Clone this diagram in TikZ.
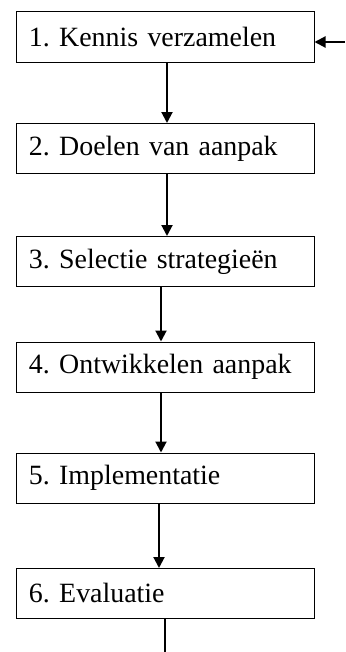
\documentclass[tikz,border=0pt]{standalone}
\usepackage{fontspec}
\setmainfont{Liberation Serif}
\usetikzlibrary{arrows.meta}
\frenchspacing

\tikzset{
	stap/.style={draw, line width=1pt, text width=272bp, inner xsep=13bp, minimum height=50bp, align=left, font=\fontsize{28}{32}\selectfont},
	pijl/.style={line width=2pt, -{Triangle[width=11bp, length=11bp]}},
}

\begin{document}
\begin{tikzpicture}[x=1bp, y=-1bp]
		\useasboundingbox (0, 0) rectangle (345, 652);

		\node[stap] (kennis) at (165, 37) {1. Kennis verzamelen};
		\node[stap] (doelen) at (165, 148.5) {2. Doelen van aanpak};
		\node[stap] (selectie) at (165, 261.5) {3. Selectie strategieën};
		\node[stap] (ontwikkelen) at (165, 367) {4. Ontwikkelen aanpak};
		\node[stap] (implementatie) at (165, 478) {5. Implementatie};
		\node[stap] (evaluatie) at (165, 593.5) {6. Evaluatie};
		\coordinate (terug) at (345, 42);
		\coordinate (onder) at (165, 652);

		\draw[pijl] ([xshift=2bp]kennis.south) -- ([xshift=2bp]doelen.north);
		\draw[pijl] ([xshift=2bp]doelen.south) -- ([xshift=2bp]selectie.north);
		\draw[pijl] ([xshift=-4bp]selectie.south) -- ([xshift=-4bp]ontwikkelen.north);
		\draw[pijl] ([xshift=-4bp]ontwikkelen.south) -- ([xshift=-4bp]implementatie.north);
		\draw[pijl] ([xshift=-6bp]implementatie.south) -- ([xshift=-6bp]evaluatie.north);
		\draw[line width=2pt] (evaluatie) -- (onder);
		\draw[pijl] (terug) -- (terug -| kennis.east);
	\end{tikzpicture}
\end{document}
